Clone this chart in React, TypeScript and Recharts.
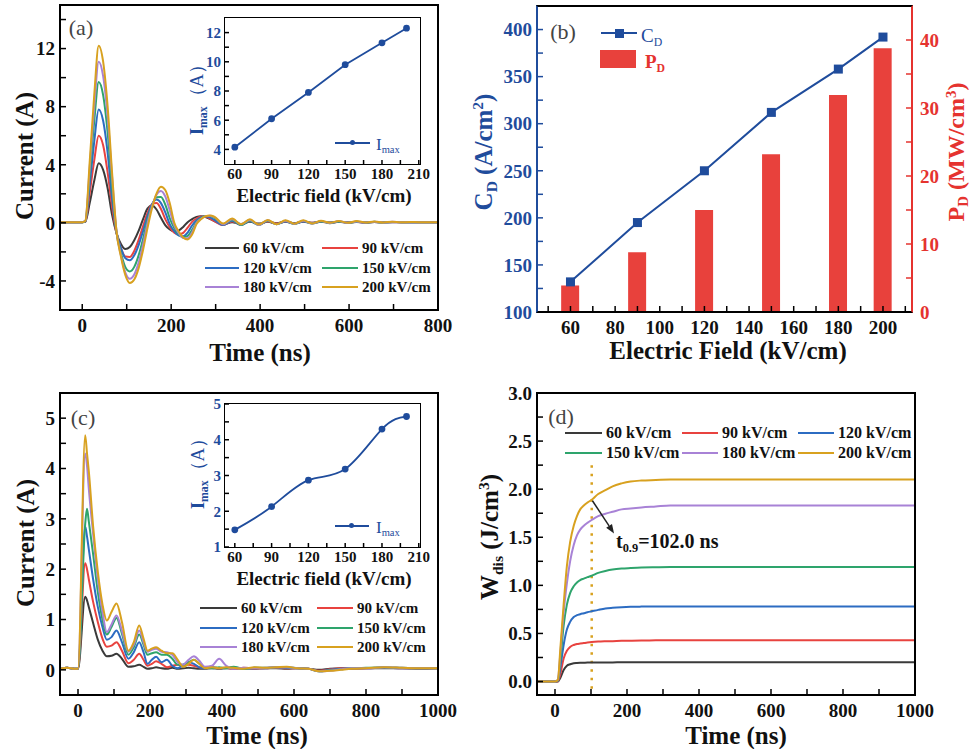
import React from "react";
import { LineChart, Line, XAxis, YAxis, ComposedChart, Bar, ReferenceLine } from "recharts";

const SERIF = '"Liberation Serif", "Times New Roman", serif';
const FIELD_LABELS = ["60 kV/cm", "90 kV/cm", "120 kV/cm", "150 kV/cm", "180 kV/cm", "200 kV/cm"];
const KEYS = ["s60", "s90", "s120", "s150", "s180", "s200"];
const COLORS = ["#3a3a3a", "#e8433f", "#2c6cc2", "#2ea46c", "#a882d6", "#d8a11f"];
const DARK_BLUE = "#1f4c9c";
const RED = "#e5332f";

// (a) current waveforms, sample 1
const timeA = [-50, -20, 0, 7, 17, 27, 37, 47, 57, 67, 77, 87, 97, 107, 117, 127, 137, 147, 157, 167, 177, 187, 197, 207, 217, 227, 237, 247, 257, 267, 277, 287, 297,
  317, 337, 357, 377, 397, 417, 437, 457, 477, 497, 517, 537, 557, 577, 597, 617, 637, 657, 677, 697, 717, 737, 757, 777, 800];
const a60 = [0.05, 0.05, 0.05, 0.08, 1.4, 2.9, 4.1, 3.65, 2.4, 0.57, -0.7, -1.45, -1.8, -1.66, -1.2, -0.54, 0.27, 0.99, 1.19, 0.92, 0.35, -0.17, -0.46, -0.6, -0.53, -0.28, 0.05, 0.26, 0.41, 0.45, 0.4, 0.28, 0.12,
  -0.1, 0.05, -0.08, 0.08, -0.05, 0.08, -0.03, 0.08, -0.02, 0.08, 0.0, 0.08, 0.02, 0.07, 0.02, 0.06, 0.03, 0.06, 0.04, 0.06, 0.05, 0.05, 0.05, 0.05, 0.05];
const a90 = [0.05, 0.05, 0.05, 0.1, 2.1, 4.3, 6.0, 5.35, 3.5, 1.14, -0.72, -1.73, -2.32, -2.35, -1.93, -1.16, -0.2, 0.7, 1.29, 1.36, 0.96, 0.24, -0.31, -0.68, -0.8, -0.69, -0.33, 0.07, 0.3, 0.43, 0.43, 0.3, 0.12,
  -0.15, 0.1, -0.12, 0.12, -0.1, 0.1, -0.05, 0.1, -0.03, 0.1, 0.0, 0.08, 0.0, 0.08, 0.02, 0.07, 0.03, 0.06, 0.04, 0.05, 0.05, 0.05, 0.05, 0.05, 0.05];
const a120 = [0.05, 0.05, 0.05, 0.12, 2.7, 5.6, 7.8, 7.03, 4.86, 1.7, -0.63, -1.74, -2.44, -2.58, -2.23, -1.51, -0.54, 0.49, 1.29, 1.6, 1.36, 0.7, -0.1, -0.57, -0.88, -0.93, -0.67, -0.18, 0.18, 0.38, 0.45, 0.38, 0.2,
  -0.15, 0.15, -0.15, 0.12, -0.12, 0.12, -0.08, 0.1, -0.05, 0.1, -0.02, 0.1, 0.0, 0.08, 0.02, 0.07, 0.03, 0.06, 0.04, 0.05, 0.05, 0.05, 0.05, 0.05, 0.05];
const a150 = [0.05, 0.05, 0.05, 0.12, 3.4, 7.0, 9.7, 8.79, 6.24, 2.5, -0.63, -2.07, -3.05, -3.35, -3.03, -2.22, -1.07, 0.22, 1.19, 1.77, 1.78, 1.24, 0.3, -0.36, -0.78, -0.99, -0.9, -0.48, 0.06, 0.32, 0.48, 0.47, 0.35,
  -0.1, 0.2, -0.15, 0.15, -0.15, 0.15, -0.1, 0.12, -0.08, 0.12, -0.05, 0.1, -0.02, 0.1, 0.0, 0.08, 0.02, 0.07, 0.03, 0.06, 0.05, 0.05, 0.05, 0.05, 0.05];
const a180 = [0.05, 0.05, 0.05, 0.14, 3.9, 8.0, 11.1, 10.1, 7.34, 3.2, -0.55, -2.24, -3.42, -3.85, -3.56, -2.72, -1.47, 0.0, 1.14, 1.94, 2.2, 1.8, 0.84, -0.18, -0.71, -1.04, -1.06, -0.67, 0.0, 0.27, 0.46, 0.49, 0.4,
  -0.1, 0.25, -0.1, 0.2, -0.15, 0.18, -0.1, 0.15, -0.08, 0.15, -0.05, 0.12, -0.02, 0.12, 0.0, 0.1, 0.02, 0.08, 0.03, 0.07, 0.05, 0.05, 0.05, 0.05, 0.05];
const a200 = [0.05, 0.05, 0.05, 0.15, 4.3, 8.8, 12.2, 11.1, 8.05, 3.5, -0.57, -2.32, -3.6, -4.14, -3.9, -3.1, -1.83, -0.32, 1.02, 2.02, 2.49, 2.25, 1.33, 0.0, -0.6, -1.01, -1.15, -0.81, -0.08, 0.25, 0.45, 0.5, 0.42,
  -0.05, 0.3, -0.1, 0.25, -0.12, 0.2, -0.1, 0.18, -0.06, 0.18, -0.04, 0.15, 0.0, 0.13, 0.0, 0.12, 0.02, 0.1, 0.03, 0.08, 0.04, 0.06, 0.05, 0.05, 0.05];

// insets: peak current vs field
const insetField = [60, 90, 120, 150, 180, 200];
const imaxA = [4.15, 6.1, 7.9, 9.8, 11.3, 12.3];
const imaxC = [1.48, 2.13, 2.87, 3.18, 4.3, 4.65];

// (b) current density and power density
const fieldB = [60, 90, 120, 150, 180, 200];
const cdB = [132, 195, 250, 312, 358, 392];
const pdB = [3.9, 8.8, 15.0, 23.2, 31.9, 38.8];

// (c) current waveforms, sample 2
const timeC = [-50, -30, -10, 0, 20, 25, 30, 42, 55, 68, 80, 93, 107, 122, 140, 155, 170, 182, 193, 205, 217, 232, 247, 262, 277, 292, 307, 322, 337, 352,
  372, 392, 412, 432, 460, 490, 520, 550, 580, 610, 640, 670, 700, 730, 760, 800, 850, 900, 950, 1000];
const c60 = [0.02, 0.04, 0.02, 0.02, 1.45, 1.38, 1.25, 0.93, 0.6, 0.38, 0.27, 0.28, 0.32, 0.22, 0.06, 0.07, 0.1, 0.06, 0.02, 0.03, 0.05, 0.03, 0.02, 0.04, 0.02, 0.03, 0.04, 0.03, 0.02, 0.02,
  0.03, 0.02, 0.03, 0.02, 0.03, 0.02, 0.03, 0.03, 0.02, 0.03, 0.02, 0.0, 0.02, 0.03, 0.02, 0.03, 0.03, 0.03, 0.02, 0.03];
const c90 = [0.02, 0.04, 0.02, 0.02, 2.12, 2.0, 1.8, 1.35, 0.95, 0.62, 0.46, 0.48, 0.55, 0.38, 0.13, 0.2, 0.32, 0.2, 0.08, 0.12, 0.17, 0.12, 0.05, 0.08, 0.1, 0.08, 0.1, 0.08, 0.05, 0.04,
  0.05, 0.03, 0.04, 0.02, 0.04, 0.03, 0.03, 0.04, 0.03, 0.03, 0.02, -0.02, 0.01, 0.03, 0.02, 0.03, 0.04, 0.03, 0.03, 0.03];
const c120 = [0.02, 0.04, 0.02, 0.02, 2.85, 2.65, 2.4, 1.8, 1.25, 0.85, 0.6, 0.65, 0.78, 0.55, 0.22, 0.35, 0.55, 0.35, 0.12, 0.2, 0.26, 0.15, 0.2, 0.08, 0.03, 0.1, 0.15, 0.12, 0.05, 0.03,
  0.05, 0.03, 0.04, 0.05, 0.02, 0.04, 0.03, 0.05, 0.04, 0.03, 0.02, -0.03, 0.0, 0.02, 0.03, 0.03, 0.04, 0.03, 0.03, 0.03];
const c150 = [0.02, 0.04, 0.02, 0.02, 2.9, 3.2, 2.95, 2.3, 1.55, 1.0, 0.7, 0.85, 1.03, 0.72, 0.3, 0.45, 0.7, 0.5, 0.3, 0.33, 0.35, 0.3, 0.3, 0.22, 0.1, 0.1, 0.15, 0.2, 0.12, 0.05,
  0.03, 0.05, 0.03, 0.06, 0.02, 0.04, 0.04, 0.05, 0.05, 0.03, 0.02, -0.03, -0.01, 0.01, 0.03, 0.04, 0.05, 0.04, 0.03, 0.03];
const c180 = [0.02, 0.04, 0.02, 0.02, 4.3, 4.05, 3.6, 2.7, 1.8, 1.15, 0.75, 0.9, 1.08, 0.78, 0.36, 0.5, 0.78, 0.55, 0.36, 0.4, 0.42, 0.36, 0.35, 0.3, 0.15, 0.1, 0.2, 0.27, 0.18, 0.06,
  0.08, 0.22, 0.08, 0.02, 0.04, 0.03, 0.04, 0.05, 0.05, 0.03, 0.02, -0.03, -0.02, 0.01, 0.03, 0.03, 0.05, 0.04, 0.03, 0.03];
const c200 = [0.02, 0.04, 0.02, 0.02, 4.66, 4.3, 3.95, 2.85, 1.95, 1.3, 0.98, 1.15, 1.32, 0.95, 0.38, 0.55, 0.88, 0.62, 0.38, 0.42, 0.45, 0.38, 0.33, 0.33, 0.2, 0.06, 0.12, 0.2, 0.12, 0.03,
  0.05, 0.03, 0.05, 0.04, 0.02, 0.05, 0.04, 0.05, 0.06, 0.03, 0.02, -0.03, -0.02, 0.0, 0.02, 0.03, 0.05, 0.04, 0.03, 0.03];

// (d) discharged energy density
const timeD = [-50, 0, 8, 15, 24, 33, 42, 52, 61, 70, 80, 90, 102, 120, 140, 160, 185, 210, 240, 280, 320, 400, 500, 600, 700, 800, 900, 1000];
const d60 = [0, 0, 0, 0.04, 0.12, 0.165, 0.18, 0.19, 0.193, 0.195, 0.196, 0.197, 0.198, 0.198, 0.199, 0.199, 0.2, 0.2, 0.2, 0.2, 0.2, 0.2, 0.2, 0.2, 0.2, 0.2, 0.2, 0.2];
const d90 = [0, 0, 0, 0.08, 0.24, 0.32, 0.36, 0.38, 0.39, 0.395, 0.4, 0.405, 0.41, 0.415, 0.418, 0.42, 0.423, 0.425, 0.427, 0.428, 0.43, 0.43, 0.43, 0.43, 0.43, 0.43, 0.43, 0.43];
const d120 = [0, 0, 0.01, 0.15, 0.38, 0.54, 0.62, 0.67, 0.69, 0.7, 0.71, 0.72, 0.73, 0.745, 0.76, 0.767, 0.773, 0.777, 0.779, 0.78, 0.78, 0.78, 0.78, 0.78, 0.78, 0.78, 0.78, 0.78];
const d150 = [0, 0, 0.01, 0.22, 0.58, 0.8, 0.92, 0.99, 1.03, 1.055, 1.07, 1.085, 1.1, 1.13, 1.15, 1.165, 1.175, 1.18, 1.185, 1.188, 1.19, 1.19, 1.19, 1.19, 1.19, 1.19, 1.19, 1.19];
const d180 = [0, 0, 0.02, 0.3, 0.72, 1.02, 1.25, 1.42, 1.52, 1.58, 1.62, 1.65, 1.68, 1.72, 1.745, 1.765, 1.79, 1.8, 1.81, 1.82, 1.83, 1.83, 1.83, 1.83, 1.83, 1.83, 1.83, 1.83];
const d200 = [0, 0, 0.02, 0.35, 0.8, 1.2, 1.45, 1.62, 1.72, 1.79, 1.83, 1.86, 1.89, 1.95, 1.99, 2.03, 2.06, 2.08, 2.09, 2.095, 2.1, 2.1, 2.1, 2.1, 2.1, 2.1, 2.1, 2.1];
const t09 = 102.0;

// tick values
const ticksTimeA = [0, 100, 200, 300, 400, 500, 600, 700, 800];
const ticksCurA = [-4, -2, 0, 2, 4, 6, 8, 10, 12, 14];
const ticksFieldB = [50, 60, 70, 80, 90, 100, 110, 120, 130, 140, 150, 160, 170, 180, 190, 200, 210];
const ticksCdB = [100, 125, 150, 175, 200, 225, 250, 275, 300, 325, 350, 375, 400, 425];
const ticksPdB = [0, 5, 10, 15, 20, 25, 30, 35, 40, 45];
const ticksTimeCD = [0, 100, 200, 300, 400, 500, 600, 700, 800, 900, 1000];
const ticksCurC = [0, 0.5, 1, 1.5, 2, 2.5, 3, 3.5, 4, 4.5, 5];
const ticksWD = [0, 0.25, 0.5, 0.75, 1, 1.25, 1.5, 1.75, 2, 2.25, 2.5, 2.75, 3];
const ticksInsetX = [60, 75, 90, 105, 120, 135, 150, 165, 180, 195, 210];
const ticksInsetAY = [4, 5, 6, 7, 8, 9, 10, 11, 12];
const ticksInsetCY = [1, 1.5, 2, 2.5, 3, 3.5, 4, 4.5, 5];

const toRows = (time: number[], series: number[][]) =>
  time.map((t, i) => {
    const r: Record<string, number> = { t };
    KEYS.forEach((k, j) => (r[k] = series[j][i]));
    return r;
  });

const rowsA = toRows(timeA, [a60, a90, a120, a150, a180, a200]);
const rowsC = toRows(timeC, [c60, c90, c120, c150, c180, c200]);
const rowsD = toRows(timeD, [d60, d90, d120, d150, d180, d200]);
const rowsB = fieldB.map((f, i) => ({ f, cd: cdB[i], pd: pdB[i] }));
const rowsInA = insetField.map((f, i) => ({ f, v: imaxA[i] }));
const rowsInC = insetField.map((f, i) => ({ f, v: imaxC[i] }));

const tickFont = (fill = "#111", size = 19) => ({ fontFamily: SERIF, fontWeight: 700, fontSize: size, fill });
const every = (step: number, fmt?: (v: number) => string) => (v: number) =>
  Math.abs(v / step - Math.round(v / step)) < 1e-6 ? (fmt ? fmt(v) : String(v)) : "";

const Sub = ({ children }: { children: React.ReactNode }) => (
  <span style={{ fontSize: "0.62em", position: "relative", top: "0.3em" }}>{children}</span>
);
const Sup = ({ children }: { children: React.ReactNode }) => (
  <span style={{ fontSize: "0.62em", position: "relative", top: "-0.55em" }}>{children}</span>
);

type TxtProps = { x: number; y: number; size: number; color?: string; weight?: number; rotate?: boolean; left?: boolean; children: React.ReactNode };
const Txt = ({ x, y, size, color = "#111", weight = 700, rotate = false, left = false, children }: TxtProps) => (
  <div
    style={{
      position: "absolute", left: x, top: y,
      transform: `translate(${left ? "0" : "-50%"}, -50%)${rotate ? " rotate(-90deg)" : ""}`,
      fontSize: size, fontWeight: weight, color, whiteSpace: "nowrap", lineHeight: 1, fontFamily: SERIF, pointerEvents: "none",
    }}
  >
    {children}
  </div>
);

const Frame = ({ x, y, w, h, left = "#000", right = "#000", width = 2 }: { x: number; y: number; w: number; h: number; left?: string; right?: string; width?: number }) => (
  <div
    style={{
      position: "absolute", left: x - width / 2, top: y - width / 2, width: w + width, height: h + width, boxSizing: "border-box",
      borderTop: `${width}px solid #000`, borderBottom: `${width}px solid #000`, borderLeft: `${width}px solid ${left}`, borderRight: `${width}px solid ${right}`,
      pointerEvents: "none",
    }}
  />
);

const LegItem = ({ x, y, color, label, lineW = 36, size = 15, gap = 4 }: { x: number; y: number; color: string; label: string; lineW?: number; size?: number; gap?: number }) => (
  <>
    <div style={{ position: "absolute", left: x, top: Math.round(y) - 1, width: lineW, height: 2, background: color }} />
    <Txt x={x + lineW + gap} y={y} size={size} left>{label}</Txt>
  </>
);

const ArrowShape = (p: any) => {
  const { x1, y1, x2, y2 } = p;
  const ang = Math.atan2(y2 - y1, x2 - x1);
  const L = 9;
  const W = 3.5;
  const bx = x2 - L * Math.cos(ang);
  const by = y2 - L * Math.sin(ang);
  const pts = `${x2},${y2} ${bx - W * Math.sin(ang)},${by + W * Math.cos(ang)} ${bx + W * Math.sin(ang)},${by - W * Math.cos(ang)}`;
  return (
    <g>
      <line x1={x1} y1={y1} x2={bx} y2={by} stroke="#222" strokeWidth={1.5} />
      <polygon points={pts} fill="#222" />
    </g>
  );
};

const SquareDot = (p: any) => (
  <rect key={`sq-${p.index}`} x={p.cx - 4.5} y={p.cy - 4.5} width={9} height={9} fill={DARK_BLUE} />
);

const tickLineStyle = { stroke: "#000", strokeWidth: 1.5 };

const Inset = ({ top, rows, domainY, ticksY, curve, plotH }: { top: number; rows: { f: number; v: number }[]; domainY: [number, number]; ticksY: number[]; curve: "linear" | "natural"; plotH: number }) => (
  <div style={{ position: "absolute", left: 170, top }}>
    <LineChart width={275} height={205} data={rows} margin={{ top: 10, right: 25, bottom: 0, left: 0 }}>
      <XAxis type="number" dataKey="f" domain={[52, 211]} ticks={ticksInsetX} interval={0} tickFormatter={every(30)}
        height={205 - 10 - plotH} axisLine={false} tickSize={-4} tickMargin={8}
        tick={tickFont("#111", 15)} tickLine={tickLineStyle} allowDataOverflow />
      <YAxis type="number" domain={domainY} ticks={ticksY} interval={0} tickFormatter={every(domainY[0] === 3 ? 2 : 1)}
        width={55} axisLine={false} tickSize={-4} tickMargin={8} tick={tickFont(DARK_BLUE, 15)} tickLine={tickLineStyle} allowDataOverflow />
      <Line type={curve} dataKey="v" stroke={DARK_BLUE} strokeWidth={1.8} isAnimationActive={false}
        dot={{ r: 2.5, fill: DARK_BLUE, stroke: DARK_BLUE }} />
    </LineChart>
  </div>
);

export default function App() {
  return (
    <div style={{ position: "absolute", left: 0, top: 0, width: 973, height: 749, background: "#fff", overflow: "hidden", fontFamily: SERIF }}>
      {/* (a) */}
      <div style={{ position: "absolute", left: 0, top: 0 }}>
        <LineChart width={470} height={370} data={rowsA} margin={{ top: 5, right: 32, bottom: 0, left: 0 }}>
          <XAxis type="number" dataKey="t" domain={[-50, 800]} ticks={ticksTimeA} interval={0} tickFormatter={every(200)}
            height={60} axisLine={false} tickSize={-6} tickMargin={15} tick={tickFont()} tickLine={tickLineStyle} allowDataOverflow />
          <YAxis type="number" domain={[-6, 15]} ticks={ticksCurA} interval={0} tickFormatter={every(4)}
            width={60} axisLine={false} tickSize={-6} tickMargin={11} tick={tickFont()} tickLine={tickLineStyle} allowDataOverflow />
          {KEYS.map((k, i) => (
            <Line key={k} type="monotone" dataKey={k} stroke={COLORS[i]} strokeWidth={2} dot={false} isAnimationActive={false} />
          ))}
        </LineChart>
      </div>
      <Frame x={60} y={5} w={378} h={305} />
      <Inset top={8} rows={rowsInA} domainY={[3, 13]} ticksY={ticksInsetAY} curve="linear" plotH={146} />
      <Frame x={225} y={18} w={195} h={146} width={1.5} />

      {/* (b) */}
      <div style={{ position: "absolute", left: 470, top: 0 }}>
        <ComposedChart width={503} height={370} data={rowsB} margin={{ top: 6, right: 0, bottom: 0, left: 0 }}>
          <XAxis type="number" dataKey="f" domain={[45, 213]} ticks={ticksFieldB} interval={0}
            tickFormatter={(v: number) => (v % 20 === 0 && v >= 60 && v <= 200 ? String(v) : "")}
            height={58} axisLine={false} tickSize={-6} tickMargin={15} tick={tickFont()} tickLine={tickLineStyle} allowDataOverflow />
          <YAxis yAxisId="left" type="number" domain={[100, 425]} ticks={ticksCdB} interval={0} tickFormatter={every(50)}
            width={67} axisLine={false} tickSize={-6} tickMargin={11} tick={tickFont(DARK_BLUE)} tickLine={{ stroke: DARK_BLUE, strokeWidth: 1.5 }} allowDataOverflow />
          <YAxis yAxisId="right" orientation="right" type="number" domain={[0, 45]} ticks={ticksPdB} interval={0} tickFormatter={every(10)}
            width={61} axisLine={false} tickSize={-6} tickMargin={14} tick={tickFont(RED)} tickLine={{ stroke: RED, strokeWidth: 1.5 }} allowDataOverflow />
          <Bar yAxisId="right" dataKey="pd" fill="#e8413c" barSize={18} isAnimationActive={false} />
          <Line yAxisId="left" type="linear" dataKey="cd" stroke={DARK_BLUE} strokeWidth={2} dot={SquareDot} isAnimationActive={false} />
        </ComposedChart>
      </div>
      <Frame x={537} y={6} w={375} h={306} left={DARK_BLUE} right={RED} />

      {/* (c) */}
      <div style={{ position: "absolute", left: 0, top: 370 }}>
        <LineChart width={470} height={379} data={rowsC} margin={{ top: 23, right: 32, bottom: 0, left: 0 }}>
          <XAxis type="number" dataKey="t" domain={[-50, 1000]} ticks={ticksTimeCD} interval={0} tickFormatter={every(200)}
            height={54} axisLine={false} tickSize={-6} tickMargin={15} tick={tickFont()} tickLine={tickLineStyle} allowDataOverflow />
          <YAxis type="number" domain={[-0.5, 5.5]} ticks={ticksCurC} interval={0} tickFormatter={every(1)}
            width={60} axisLine={false} tickSize={-6} tickMargin={11} tick={tickFont()} tickLine={tickLineStyle} allowDataOverflow />
          {KEYS.map((k, i) => (
            <Line key={k} type="monotone" dataKey={k} stroke={COLORS[i]} strokeWidth={2} dot={false} isAnimationActive={false} />
          ))}
        </LineChart>
      </div>
      <Frame x={60} y={393} w={378} h={302} />
      <Inset top={394} rows={rowsInC} domainY={[1, 5]} ticksY={ticksInsetCY} curve="natural" plotH={143} />
      <Frame x={225} y={404} w={195} h={143} width={1.5} />

      {/* (d) */}
      <div style={{ position: "absolute", left: 470, top: 370 }}>
        <LineChart width={503} height={379} data={rowsD} margin={{ top: 23, right: 58, bottom: 0, left: 0 }}>
          <XAxis type="number" dataKey="t" domain={[-50, 1000]} ticks={ticksTimeCD} interval={0} tickFormatter={every(200)}
            height={54} axisLine={false} tickSize={-6} tickMargin={15} tick={tickFont()} tickLine={tickLineStyle} allowDataOverflow />
          <YAxis type="number" domain={[-0.14, 3]} ticks={ticksWD} interval={0} tickFormatter={every(0.5, (v) => v.toFixed(1))}
            width={67} axisLine={false} tickSize={-6} tickMargin={11} tick={tickFont()} tickLine={tickLineStyle} allowDataOverflow />
          <ReferenceLine segment={[{ x: t09, y: 2.25 }, { x: t09, y: -0.14 }]} stroke="#d8a11f" strokeWidth={2.5} strokeDasharray="2.5 6" />
          {KEYS.map((k, i) => (
            <Line key={k} type="monotone" dataKey={k} stroke={COLORS[i]} strokeWidth={2} dot={false} isAnimationActive={false} />
          ))}
          <ReferenceLine segment={[{ x: 104, y: 1.88 }, { x: 164, y: 1.54 }]} shape={ArrowShape} />
        </LineChart>
      </div>
      <Frame x={537} y={393} w={378} h={302} />

      {/* panel letters */}
      <Txt x={81} y={28} size={22} weight={400} color="#444">(a)</Txt>
      <Txt x={563} y={32} size={22} weight={400} color="#444">(b)</Txt>
      <Txt x={83} y={418} size={22} weight={400} color="#444">(c)</Txt>
      <Txt x={561} y={417} size={22} weight={400} color="#444">(d)</Txt>

      {/* axis titles */}
      <Txt x={24} y={156} size={25} rotate>Current (A)</Txt>
      <Txt x={260} y={352} size={25}>Time (ns)</Txt>
      <Txt x={483} y={152} size={25} rotate color={DARK_BLUE}>C<Sub>D</Sub> (A/cm<Sup>2</Sup>)</Txt>
      <Txt x={956} y={152} size={24} rotate color={RED}>P<Sub>D</Sub> (MW/cm<Sup>3</Sup>)</Txt>
      <Txt x={728} y={350} size={25}>Electric Field (kV/cm)</Txt>
      <Txt x={25} y={543} size={25} rotate>Current (A)</Txt>
      <Txt x={257} y={735} size={25}>Time (ns)</Txt>
      <Txt x={489} y={537} size={25} rotate>W<Sub>dis</Sub> (J/cm<Sup>3</Sup>)</Txt>
      <Txt x={736} y={735} size={25}>Time (ns)</Txt>

      {/* inset titles */}
      <Txt x={196} y={95} size={19} rotate color={DARK_BLUE}>I<Sub>max</Sub><span style={{ fontWeight: 400 }}>（A）</span></Txt>
      <Txt x={324} y={195} size={19}>Electric field (kV/cm)</Txt>
      <Txt x={197} y={469} size={19} rotate color={DARK_BLUE}>I<Sub>max</Sub><span style={{ fontWeight: 400 }}>（A）</span></Txt>
      <Txt x={324} y={578} size={19}>Electric field (kV/cm)</Txt>

      {/* inset legends */}
      <div style={{ position: "absolute", left: 335, top: 142, width: 35, height: 1.8, background: DARK_BLUE }} />
      <div style={{ position: "absolute", left: 350, top: 140.4, width: 5, height: 5, borderRadius: 3, background: DARK_BLUE }} />
      <Txt x={376} y={144} size={17} weight={400} color={DARK_BLUE} left>I<Sub>max</Sub></Txt>
      <div style={{ position: "absolute", left: 335, top: 525, width: 34, height: 1.8, background: DARK_BLUE }} />
      <div style={{ position: "absolute", left: 349, top: 523.4, width: 5, height: 5, borderRadius: 3, background: DARK_BLUE }} />
      <Txt x={376} y={527} size={17} weight={400} color={DARK_BLUE} left>I<Sub>max</Sub></Txt>

      {/* (a) legend */}
      {[0, 1, 2].map((r) => (
        <React.Fragment key={`la${r}`}>
          <LegItem x={205} y={248 + r * 19.5} color={COLORS[r * 2]} label={FIELD_LABELS[r * 2]} lineW={34} />
          <LegItem x={322} y={248 + r * 19.5} color={COLORS[r * 2 + 1]} label={FIELD_LABELS[r * 2 + 1]} lineW={36} />
        </React.Fragment>
      ))}

      {/* (c) legend */}
      {[0, 1, 2].map((r) => (
        <React.Fragment key={`lc${r}`}>
          <LegItem x={200} y={608 + r * 19.5} color={COLORS[r * 2]} label={FIELD_LABELS[r * 2]} lineW={37} />
          <LegItem x={317} y={608 + r * 19.5} color={COLORS[r * 2 + 1]} label={FIELD_LABELS[r * 2 + 1]} lineW={36} />
        </React.Fragment>
      ))}

      {/* (d) legend */}
      {[0, 1].map((r) => (
        <React.Fragment key={`ld${r}`}>
          <LegItem x={565} y={433 + r * 20} color={COLORS[r * 3]} label={FIELD_LABELS[r * 3]} lineW={37} size={16} />
          <LegItem x={682} y={433 + r * 20} color={COLORS[r * 3 + 1]} label={FIELD_LABELS[r * 3 + 1]} lineW={36} size={16} />
          <LegItem x={798} y={433 + r * 20} color={COLORS[r * 3 + 2]} label={FIELD_LABELS[r * 3 + 2]} lineW={36} size={16} />
        </React.Fragment>
      ))}

      {/* (b) legend */}
      <div style={{ position: "absolute", left: 601, top: 32, width: 36, height: 2, background: DARK_BLUE }} />
      <div style={{ position: "absolute", left: 614.5, top: 28.5, width: 9, height: 9, background: DARK_BLUE }} />
      <Txt x={641} y={35} size={19} weight={400} color={DARK_BLUE} left>C<Sub>D</Sub></Txt>
      <div style={{ position: "absolute", left: 600, top: 50, width: 36, height: 18, background: "#e8413c" }} />
      <Txt x={645} y={61} size={19} weight={700} color={RED} left>P<Sub>D</Sub></Txt>

      {/* (d) annotation */}
      <Txt x={616} y={541} size={20} left>t<Sub>0.9</Sub>=102.0 ns</Txt>
    </div>
  );
}
